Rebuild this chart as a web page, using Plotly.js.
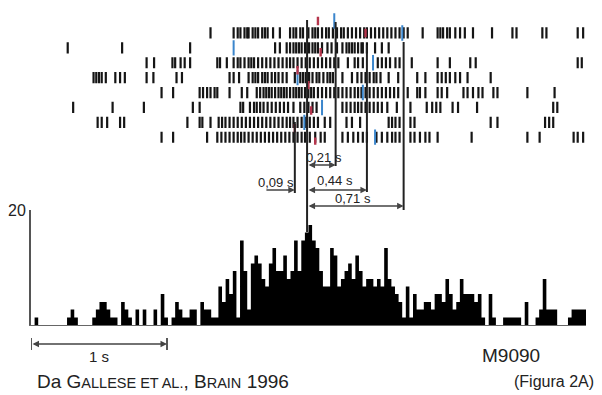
<!DOCTYPE html>
<html><head><meta charset="utf-8">
<script src="https://cdn.plot.ly/plotly-3.0.1.min.js"></script>
<style>html,body{margin:0;padding:0;background:#fff}#c{width:602px;height:395px}</style>
</head><body><div id="c"></div>
<script>
// PSTH (histogram) values (axis units, top tick = 20)
const HIST_START = -2.03;   // s, left edge of first bin
const BIN_W = 0.0265;       // s
const histValues = [0,1.3,0,0,0,0,0,0,0,0,
1.3,2.7,1.3,0,0,0,0,1.3,2.7,4.0,
4.0,2.7,1.3,1.3,0,4.0,2.7,1.3,0,2.7,
0,2.7,0,0,2.7,0,5.4,1.3,0,1.3,
4.0,2.7,1.3,1.3,2.7,2.7,0,4.0,2.7,2.7,
1.3,1.3,6.7,4.0,8.0,5.4,9.4,1.3,14.7,9.4,
2.7,10.7,12.1,10.7,8.0,6.7,10.7,13.4,9.4,9.4,
12.1,8.0,9.4,14.7,9.4,14.7,16.1,17.4,14.7,13.4,
9.4,6.7,6.7,13.4,12.1,6.7,8.0,9.4,10.7,8.0,
12.1,9.4,6.7,8.0,8.0,6.7,8.0,6.7,13.4,8.0,
6.7,5.4,4.0,1.3,6.7,1.3,5.4,2.7,2.7,4.0,
4.0,2.7,5.4,5.4,4.0,8.0,5.4,2.7,4.0,8.0,
5.4,5.4,5.4,4.0,5.4,1.3,0,5.4,1.3,0,
0,1.3,1.3,1.3,1.3,1.3,0,4.0,0,0,
1.3,2.7,8.0,2.7,2.7,2.7,0,0,0,1.3,
2.7,2.7,2.7,2.7];

// Raster spike times (s, relative to the event) for each trial
const trial1 = [-0.71,-0.54,-0.51,-0.49,-0.46,-0.44,-0.43,-0.40,-0.38,-0.36,-0.33,-0.31,-0.29,-0.25,-0.20,-0.125,-0.10,-0.08,-0.05,-0.03,0.01,0.04,0.06,0.08,0.11,0.14,0.16,0.19,0.22,0.25,0.27,0.30,0.33,0.36,0.39,0.42,0.44,0.47,0.50,0.53,0.56,0.59,0.62,0.65,0.68,0.71,0.74,0.85,0.96,0.98,1.00,1.03,1.05,1.09,1.125,1.16,1.22,1.36,1.51,1.54,1.73,1.76,1.99,2.03];
const trial2 = [-1.76,-1.36,-0.86,-0.235,-0.20,-0.15,-0.125,-0.10,-0.08,-0.06,-0.04,-0.015,0.015,0.04,0.06,0.08,0.11,0.15,0.18,0.22,0.26,0.29,0.31,0.33,0.35,0.375,0.40,0.41,0.44,0.50,0.55,0.60];
const trial3 = [-1.18,-1.125,-0.99,-0.97,-0.93,-0.90,-0.86,-0.66,-0.64,-0.59,-0.54,-0.51,-0.49,-0.46,-0.43,-0.41,-0.39,-0.36,-0.33,-0.30,-0.27,-0.24,-0.21,-0.18,-0.15,-0.125,-0.10,-0.07,-0.04,-0.01,0.02,0.05,0.08,0.11,0.14,0.17,0.20,0.23,0.30,0.35,0.375,0.41,0.52,0.55,0.58,0.61,0.65,0.68,0.77,0.96,1.05,1.20,1.24,1.99,2.02];
const trial4 = [-1.57,-1.55,-1.53,-1.51,-1.48,-1.41,-1.375,-1.34,-1.18,-1.13,-0.96,-0.92,-0.57,-0.54,-0.50,-0.43,-0.40,-0.38,-0.36,-0.33,-0.31,-0.29,-0.26,-0.235,-0.21,-0.18,-0.15,-0.09,-0.05,-0.03,-0.01,0.015,0.04,0.07,0.09,0.12,0.15,0.17,0.19,0.26,0.33,0.37,0.40,0.43,0.46,0.49,0.51,0.54,0.60,0.67,0.81,0.87,0.96,0.99,1.02,1.05,1.09,1.125,1.18,1.35];
const trial5 = [-1.07,-0.985,-0.79,-0.765,-0.735,-0.71,-0.68,-0.66,-0.57,-0.48,-0.44,-0.37,-0.345,-0.32,-0.30,-0.28,-0.26,-0.235,-0.21,-0.19,-0.17,-0.15,-0.125,-0.10,-0.08,-0.06,-0.04,-0.015,0.01,0.03,0.05,0.08,0.11,0.14,0.17,0.20,0.23,0.26,0.29,0.32,0.35,0.375,0.40,0.43,0.46,0.49,0.52,0.55,0.58,0.61,0.64,0.67,0.74,0.81,0.83,0.87,0.96,0.99,1.03,1.15,1.18,1.22,1.26,1.29,1.37,1.40,1.62,1.82];
const trial6 = [-1.72,-1.43,-1.20,-0.84,-0.79,-0.49,-0.47,-0.42,-0.39,-0.37,-0.345,-0.32,-0.29,-0.26,-0.23,-0.20,-0.17,-0.14,-0.10,-0.05,-0.02,0.01,0.04,0.07,0.26,0.29,0.32,0.35,0.375,0.40,0.43,0.46,0.49,0.52,0.55,0.59,0.66,0.76,0.88,0.92,0.95,0.98,1.07,1.11,1.25,1.81,1.84];
const trial7 = [-1.54,-1.51,-1.47,-1.375,-1.345,-0.88,-0.79,-0.77,-0.71,-0.65,-0.625,-0.60,-0.57,-0.54,-0.51,-0.48,-0.45,-0.42,-0.39,-0.36,-0.33,-0.30,-0.27,-0.24,-0.21,-0.18,-0.15,-0.125,-0.10,-0.07,-0.04,-0.01,0.02,0.05,0.08,0.13,0.17,0.29,0.33,0.39,0.60,0.625,0.65,0.68,0.76,0.79,1.35,1.40,1.75,1.78,1.81];
const trial8 = [-1.07,-0.985,-0.735,-0.66,-0.63,-0.60,-0.57,-0.54,-0.51,-0.485,-0.46,-0.43,-0.40,-0.37,-0.34,-0.31,-0.28,-0.25,-0.22,-0.19,-0.16,-0.13,-0.10,-0.07,-0.04,-0.015,0.02,0.06,0.10,0.13,0.26,0.30,0.34,0.375,0.41,0.44,0.51,0.55,0.59,0.625,0.65,0.68,0.76,0.79,0.83,0.87,0.90,0.96,1.21,1.62,1.71,1.96,1.99,2.03];
const trials = [trial1, trial2, trial3, trial4, trial5, trial6, trial7, trial8];

// Behavioural event markers in the raster (time s, trial row)
const blueT = [0.20, 0.70, -0.54, 0.485, -0.07, 0.41, 0.11, -0.02, 0.50];
const blueRow = [0.2, 1, 2, 3, 4, 5, 6, 7, 8];
const redT = [0.08, 0.43, 0.10, -0.07, 0.01, 0.03, -0.09, 0.06];
const redRow = [0.2, 1, 2.3, 3.5, 4.5, 6.2, 7.4, 8.3];

// Event/latency lines (s)
const eventT = [-0.09, 0, 0.21, 0.44, 0.71];
const latencyLabels = ['0,09 s', '0,21 s', '0,44 s', '0,71 s'];
const yTickVals = [20];
const yTickText = ['20'];

// step outline of the histogram (bin edges)
const stepX = [], stepY = [];
histValues.forEach((v, i) => { stepX.push(HIST_START + BIN_W * i); stepY.push(v); });
stepX.push(HIST_START + BIN_W * histValues.length); stepY.push(histValues[histValues.length - 1]);

const rx = [], ry = [];
trials.forEach((tr, k) => tr.forEach(t => { rx.push(t); ry.push(k + 1); }));

const FONT = 'Liberation Sans, Arial, Helvetica, sans-serif';
const data = [
  {type: 'scatter', mode: 'lines', x: stepX, y: stepY, line: {shape: 'hv', width: 0, color: '#000'},
   fill: 'tozeroy', fillcolor: '#000', xaxis: 'x', yaxis: 'y', hoverinfo: 'skip'},
  {type: 'scatter', mode: 'markers', x: rx, y: ry, xaxis: 'x', yaxis: 'y2',
   marker: {symbol: 'line-ns-open', size: 8, color: '#151515', line: {width: 2.2}}, hoverinfo: 'skip'},
  {type: 'scatter', mode: 'markers', x: blueT, y: blueRow, xaxis: 'x', yaxis: 'y2',
   marker: {symbol: 'line-ns-open', size: 11, color: '#3b86cc', line: {width: 2}}, hoverinfo: 'skip'},
  {type: 'scatter', mode: 'markers', x: redT, y: redRow, xaxis: 'x', yaxis: 'y2',
   marker: {symbol: 'line-ns-open', size: 6, color: '#b5354c', line: {width: 2.4}}, hoverinfo: 'skip'}
];

const P = py => (325 - py) / 325;   // pixel row -> paper y
const lineExt = [[193, 122], [232, 20], [166, 22], [192, 45], [210, 42]];
const shapes = eventT.map((t, i) => ({type: 'line', xref: 'x', yref: 'paper', x0: t, x1: t,
  y0: P(lineExt[i][0]), y1: P(lineExt[i][1]), line: {color: '#222', width: 2}}));
// scale bar end ticks
shapes.push({type: 'line', xref: 'x', yref: 'paper', x0: HIST_START, x1: HIST_START, y0: P(350), y1: P(338), line: {color: '#222', width: 1.5}});
shapes.push({type: 'line', xref: 'x', yref: 'paper', x0: HIST_START + 1, x1: HIST_START + 1, y0: P(350), y1: P(338), line: {color: '#222', width: 1.5}});

const arrow = (from, to, py, both) => ({xref: 'x', yref: 'paper', axref: 'x', ayref: 'pixel',
  x: to, y: P(py), ax: from, ay: 0, text: '', showarrow: true, arrowhead: 2, arrowsize: 1,
  arrowwidth: 1.3, arrowcolor: '#444', arrowside: both ? 'end+start' : 'end', startarrowhead: 2, startarrowsize: 1});
const label = (t, py, txt) => ({xref: 'x', yref: 'paper', x: t, y: P(py), text: txt, showarrow: false,
  font: {family: FONT, size: 13, color: '#222'}, xanchor: 'center', yanchor: 'middle'});

const annotations = [
  arrow(-0.31, eventT[0], 190, false),
  arrow(eventT[1], eventT[2], 165, true),
  arrow(eventT[1], eventT[3], 190, true),
  arrow(eventT[1], eventT[4], 206, true),
  label(-0.228, 182, latencyLabels[0]),
  label(0.125, 157, latencyLabels[1]),
  label(0.206, 181, latencyLabels[2]),
  label(0.34, 198, latencyLabels[3]),
  arrow(HIST_START, HIST_START + 1, 344, true),
  {xref: 'x', yref: 'paper', x: HIST_START + 0.5, y: P(356), text: '1 s', showarrow: false,
   font: {family: FONT, size: 15, color: '#222'}, xanchor: 'center', yanchor: 'middle'},
  {xref: 'paper', yref: 'paper', x: (511 - 31) / 555, y: P(355), text: 'M9090', showarrow: false,
   font: {family: FONT, size: 19, color: '#222'}, xanchor: 'center', yanchor: 'middle'},
  {xref: 'paper', yref: 'paper', x: (35 - 31) / 555, y: P(381),
   text: 'Da G<span style="font-size:14.5px">ALLESE ET AL.</span>, B<span style="font-size:14.5px">RAIN</span> 1996',
   showarrow: false, font: {family: FONT, size: 19, color: '#222'}, xanchor: 'left', yanchor: 'middle'},
  {xref: 'paper', yref: 'paper', x: (596 - 31) / 555, y: P(381), text: '(Figura 2A)', showarrow: false,
   font: {family: FONT, size: 16, color: '#222'}, xanchor: 'right', yanchor: 'middle'}
];

const layout = {
  width: 602, height: 395, paper_bgcolor: '#fff', plot_bgcolor: 'rgba(0,0,0,0)',
  margin: {l: 31, r: 16, t: 0, b: 70}, showlegend: false,
  font: {family: FONT, color: '#222'},
  xaxis: {range: [HIST_START, HIST_START + BIN_W * histValues.length], showline: true, linecolor: '#666', linewidth: 1,
    showticklabels: false, ticks: '', showgrid: false, zeroline: false, fixedrange: true},
  yaxis: {domain: [0, 115 / 325], range: [0, 20], showline: true, linecolor: '#555', linewidth: 2,
    ticks: '', tickvals: yTickVals, ticktext: yTickText, tickfont: {size: 16, family: FONT, color: '#222'},
    showgrid: false, zeroline: false, fixedrange: true},
  yaxis2: {domain: [P(144.7), P(10.6)], range: [8.5, -0.5], visible: false, anchor: 'x', fixedrange: true},
  shapes: shapes, annotations: annotations
};
Plotly.newPlot('c', data, layout, {staticPlot: true, displayModeBar: false});
</script></body></html>
